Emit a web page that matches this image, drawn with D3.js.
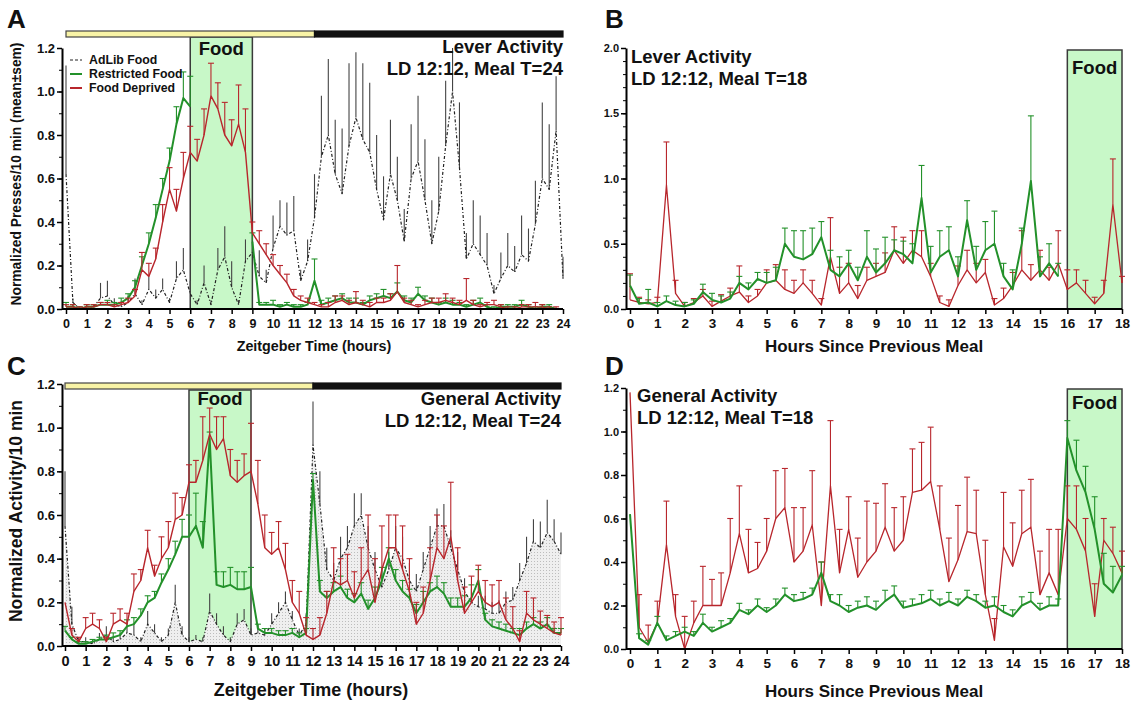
<!DOCTYPE html>
<html>
<head>
<meta charset="utf-8">
<script src="https://cdn.jsdelivr.net/npm/d3@7"></script>
<style>
body { margin: 0; background: #fff; }
svg text { font-family: "Liberation Sans", Arial, sans-serif; font-weight: bold; fill: #111; }
</style>
</head>
<body>
<svg id="fig" width="1138" height="703"></svg>
<script>
// 20-minute bins (hours)
var hours24 = d3.range(73).map(function(i) { return i / 3; });
var hours18 = d3.range(55).map(function(i) { return i / 3; });

// Panel A - lever presses, T=24
var aAdlib = [0.62,0.03,0,0,0.01,0.05,0.06,0.02,0.01,0.03,0.07,0.02,0.09,0.05,0.09,0.03,0.14,0.18,0.07,0.02,0.12,0.02,0.18,0.24,0.10,0.02,0.22,0.26,0.15,0.12,0.28,0.38,0.34,0.36,0.13,0.22,0.42,0.70,0.80,0.62,0.53,0.75,0.88,0.78,0.72,0.55,0.41,0.62,0.50,0.31,0.60,0.68,0.50,0.30,0.45,0.75,1.00,0.65,0.23,0.30,0.25,0.20,0.07,0.14,0.20,0.17,0.25,0.22,0.39,0.60,0.55,0.82,0.14];
var aAdlibErr = [0.5,0.02,0,0,0.01,0.07,0.07,0.03,0.01,0.03,0.07,0.02,0.06,0.04,0.05,0.02,0.08,0.10,0.06,0.02,0.08,0.02,0.10,0.14,0.12,0.02,0.10,0.10,0.12,0.06,0.15,0.12,0.15,0.16,0.05,0.10,0.20,0.28,0.35,0.25,0.30,0.38,0.30,0.35,0.32,0.25,0.20,0.25,0.20,0.15,0.25,0.30,0.28,0.20,0.25,0.30,0.20,0.30,0.12,0.20,0.18,0.15,0.04,0.12,0.15,0.12,0.18,0.15,0.20,0.35,0.30,0.25,0.10];
var aRestricted = [0.01,0.01,0,0.01,0.01,0.02,0.02,0.02,0.03,0.05,0.10,0.20,0.30,0.42,0.55,0.68,0.85,0.97,0.93,null,null,null,null,null,null,null,null,0.31,0.02,0.02,0.02,0.01,0.02,0.01,0.01,0.02,0.13,0.02,0.03,0.04,0.05,0.03,0.03,0.02,0.04,0.05,0.06,0.05,0.08,0.04,0.03,0.07,0.04,0.03,0.02,0.03,0.02,0.02,0.01,0.02,0.03,0.01,0,0.01,0.01,0.01,0.02,0.01,0,0.01,0.01,0,0];
var aRestrictedErr = [0.02,0.01,0.01,0.01,0.01,0.01,0.02,0.01,0.02,0.02,0.03,0.04,0.05,0.06,0.05,0.06,0.08,0.12,0.14,0,0,0,0,0,0,0,0,0.04,0.01,0.01,0.02,0.01,0.01,0.01,0.01,0.01,0.10,0.02,0.02,0.02,0.02,0.02,0.02,0.01,0.02,0.02,0.03,0.02,0.04,0.02,0.02,0.03,0.02,0.02,0.01,0.02,0.02,0.01,0.01,0.02,0.02,0.01,0.01,0.01,0.01,0.01,0.02,0.01,0.01,0.01,0.01,0,0];
var aDeprived = [0.01,0.01,0,0.01,0.01,0.02,0.02,0.01,0.02,0.03,0.06,0.18,0.15,0.23,0.40,0.55,0.45,0.60,0.72,0.68,0.80,0.98,0.92,0.80,0.75,0.85,0.72,0.35,0.30,0.25,0.20,0.16,0.12,0.06,0.04,0.03,0.02,0.01,0.01,0.03,0.04,0.02,0.03,0.02,0.01,0.03,0.03,0.04,0.08,0.03,0.02,0.01,0.02,0.03,0.03,0.04,0.03,0.02,0.04,0.02,0.01,0.02,0.02,0.01,0,0,0.01,0.01,0.01,0.01,0,0,0];
var aDeprivedErr = [0.01,0.01,0.01,0.01,0.01,0.01,0.01,0.01,0.01,0.02,0.03,0.08,0.06,0.05,0.08,0.10,0.10,0.12,0.12,0.10,0.12,0.15,0.12,0.15,0.12,0.18,0.20,0.05,0.06,0.05,0.05,0.04,0.04,0.03,0.02,0.02,0.01,0.01,0.02,0.03,0.02,0.02,0.05,0.02,0.02,0.02,0.02,0.03,0.12,0.02,0.02,0.01,0.02,0.02,0.02,0.03,0.02,0.02,0.10,0.02,0.01,0.01,0.02,0.01,0.01,0.01,0.01,0.01,0.02,0.01,0.01,0.01,0];

// Panel B - lever presses, T=18
var bRestricted = [0.18,0.04,0.05,0.02,0.06,0.03,0.02,0.04,0.13,0.07,0.05,0.08,0.20,0.15,0.23,0.20,0.22,0.50,0.40,0.38,0.42,0.55,0.30,0.25,0.35,0.22,0.40,0.28,0.35,0.45,0.42,0.35,0.85,0.28,0.40,0.45,0.25,0.68,0.30,0.45,0.50,0.25,0.15,0.50,0.98,0.25,0.35,0.25,null,null,null,null,null,null,null];
var bRestrictedErr = [0.08,0.04,0.10,0.03,0.04,0.03,0.03,0.03,0.06,0.05,0.05,0.05,0.05,0.05,0.05,0.08,0.10,0.12,0.20,0.22,0.20,0.12,0.15,0.15,0.10,0.10,0.20,0.18,0.20,0.08,0.10,0.15,0.25,0.20,0.20,0.18,0.15,0.15,0.18,0.22,0.25,0.10,0.15,0.12,0.50,0.15,0.15,0.10,0,0,0,0,0,0,0];
var bDeprived = [0.07,0.05,0.04,0.05,0.95,0.12,0.02,0.05,0.10,0.02,0.06,0.10,0.13,0.05,0.10,0.20,0.22,0.15,0.12,0.20,0.12,0.03,0.40,0.12,0.20,0.08,0.22,0.25,0.28,0.45,0.35,0.45,0.40,0.25,0.05,0.02,0.18,0.30,0.20,0.28,0.03,0.08,0.18,0.30,0.22,0.30,0.22,0.35,0.15,0.20,0.12,0.04,0.12,0.80,0.20];
var bDeprivedErr = [0.20,0.04,0.03,0.04,0.33,0.10,0.03,0.03,0.05,0.04,0.05,0.06,0.20,0.05,0.05,0.10,0.12,0.15,0.10,0.10,0.10,0.05,0.30,0.20,0.15,0.10,0.10,0.10,0.15,0.18,0.20,0.15,0.20,0.10,0.05,0.05,0.15,0.15,0.15,0.10,0.05,0.08,0.10,0.30,0.12,0.15,0.10,0.25,0.15,0.10,0.10,0.05,0.10,0.35,0.05];

// Panel C - general activity, T=24
var cAdlib = [0.55,0.10,0.02,0.02,0.01,0.03,0.05,0.02,0.03,0.06,0.05,0.02,0.10,0.06,0.02,0.05,0.20,0.05,0.02,0.03,0.02,0.16,0.10,0.05,0.02,0.10,0.12,0.05,0.06,0.05,0.10,0.15,0.20,0.12,0.05,0.10,0.92,0.65,0.35,0.30,0.40,0.45,0.55,0.60,0.45,0.35,0.27,0.35,0.45,0.40,0.30,0.25,0.35,0.45,0.55,0.55,0.45,0.35,0.25,0.20,0.18,0.17,0.15,0.15,0.20,0.21,0.30,0.38,0.48,0.45,0.52,0.48,0.42];
var cAdlibErr = [0.25,0.08,0.02,0.02,0.01,0.03,0.04,0.02,0.03,0.04,0.05,0.02,0.06,0.04,0.02,0.03,0.08,0.04,0.02,0.02,0.02,0.08,0.05,0.04,0.02,0.05,0.05,0.03,0.04,0.03,0.05,0.05,0.05,0.04,0.03,0.05,0.20,0.15,0.10,0.08,0.10,0.10,0.15,0.10,0.10,0.08,0.08,0.08,0.10,0.10,0.08,0.08,0.08,0.10,0.08,0.10,0.08,0.08,0.06,0.06,0.05,0.06,0.05,0.06,0.05,0.06,0.08,0.12,0.10,0.12,0.15,0.10,0.10];
var cRestricted = [0.07,0.03,0.01,0.01,0.02,0.03,0.03,0.04,0.05,0.09,0.10,0.14,0.20,0.22,0.29,0.35,0.42,0.50,0.50,0.55,0.45,0.95,0.28,0.27,0.28,0.26,0.26,0.27,0.08,0.06,0.06,0.05,0.05,0.06,0.04,0.06,0.76,0.25,0.22,0.25,0.27,0.22,0.20,0.24,0.17,0.22,0.30,0.40,0.30,0.25,0.22,0.15,0.20,0.25,0.27,0.24,0.18,0.18,0.18,0.22,0.30,0.12,0.09,0.08,0.07,0.06,0.05,0.08,0.10,0.08,0.10,0.06,0.06];
var cRestrictedErr = [0.02,0.01,0.01,0.01,0.01,0.01,0.02,0.02,0.02,0.03,0.03,0.03,0.03,0.03,0.04,0.05,0.06,0.08,0.10,0.15,0.12,0.03,0.06,0.07,0.08,0.08,0.08,0.09,0.02,0.02,0.02,0.02,0.02,0.02,0.02,0.02,0.03,0.05,0.03,0.04,0.05,0.04,0.04,0.05,0.04,0.05,0.06,0.05,0.05,0.05,0.04,0.04,0.05,0.04,0.05,0.05,0.04,0.04,0.05,0.06,0.05,0.03,0.03,0.03,0.03,0.02,0.03,0.03,0.03,0.03,0.03,0.02,0.02];
var cDeprived = [0.20,0.05,0.02,0.08,0.10,0.08,0.02,0.10,0.12,0.10,0.25,0.30,0.45,0.32,0.40,0.45,0.58,0.60,0.75,0.75,0.85,0.97,0.90,0.95,0.78,0.75,0.78,0.80,0.65,0.45,0.42,0.45,0.35,0.20,0.15,0.05,0.03,0.05,0.15,0.30,0.28,0.30,0.22,0.30,0.35,0.20,0.35,0.45,0.45,0.35,0.25,0.10,0.15,0.30,0.45,0.40,0.50,0.30,0.15,0.20,0.25,0.20,0.18,0.20,0.12,0.08,0.02,0.15,0.12,0.10,0.08,0.06,0.05];
var cDeprivedErr = [0,0.03,0.02,0.05,0.05,0.04,0.02,0.05,0.05,0.05,0.08,0.05,0.08,0.05,0.10,0.12,0.12,0.08,0.08,0.10,0.20,0.12,0.15,0.10,0.12,0.10,0.10,0.22,0.20,0.15,0.10,0.12,0.12,0.10,0.10,0.08,0.05,0.08,0.10,0.15,0.12,0.12,0.12,0.15,0.25,0.20,0.20,0.15,0.15,0.20,0.15,0.10,0.12,0.15,0.15,0.15,0.25,0.15,0.12,0.12,0.12,0.10,0.10,0.10,0.10,0.10,0.05,0.10,0.10,0.06,0.06,0.05,0.08];

// Panel D - general activity, T=18
var dRestricted = [0.62,0.05,0.02,0.12,0.04,0.06,0.08,0.06,0.12,0.08,0.10,0.12,0.18,0.16,0.20,0.17,0.20,0.25,0.22,0.23,0.25,0.35,0.22,0.20,0.17,0.19,0.20,0.18,0.22,0.25,0.19,0.20,0.21,0.23,0.20,0.22,0.20,0.24,0.22,0.19,0.20,0.17,0.15,0.20,0.22,0.18,0.20,0.20,0.97,0.82,0.72,0.55,0.30,0.26,0.34];
var dRestrictedErr = [0,0.02,0.02,0.03,0.02,0.02,0.02,0.02,0.04,0.02,0.03,0.02,0.03,0.02,0.03,0.02,0.03,0.03,0.03,0.03,0.03,0.05,0.03,0.05,0.03,0.03,0.04,0.04,0.05,0.04,0.03,0.03,0.04,0.04,0.03,0.04,0.03,0.03,0.03,0.03,0.04,0.03,0.03,0.04,0.04,0.03,0.04,0.03,0.08,0.14,0.12,0.15,0.14,0.12,0.04];
var dDeprived = [1.18,0.10,0.03,0.12,0.48,0.15,0,0.12,0.20,0.20,0.20,0.35,0.53,0.35,0.37,0.45,0.60,0.65,0.40,0.45,0.57,0.20,0.75,0.35,0.55,0.33,0.40,0.45,0.56,0.45,0.50,0.72,0.73,0.77,0.55,0.31,0.41,0.54,0.53,0.25,0.04,0.47,0.38,0.53,0.56,0.25,0.35,0.25,0.60,0.55,0.45,0.15,0.50,0.44,0.35];
var dDeprivedErr = [0,0.15,0.08,0.10,0.20,0.10,0.15,0.10,0.18,0.12,0.15,0.25,0.22,0.20,0.12,0.15,0.22,0.18,0.25,0.20,0.25,0.20,0.30,0.20,0.15,0.18,0.28,0.22,0.20,0.20,0.20,0.20,0.22,0.25,0.20,0.20,0.25,0.25,0.20,0.25,0.10,0.25,0.20,0.20,0.22,0.20,0.20,0.30,0.15,0.20,0.15,0.15,0.10,0.12,0.10];

var legendNames = ["AdLib Food", "Restricted Food", "Food Deprived"];

var svg = d3.select("#fig");

// dotted grey fill used under the AdLib trace in panel C
var pat = svg.append("defs").append("pattern")
    .attr("id", "dots").attr("width", 3).attr("height", 3)
    .attr("patternUnits", "userSpaceOnUse");
pat.append("rect").attr("width", 3).attr("height", 3).attr("fill", "#efefef");
pat.append("rect").attr("width", 1).attr("height", 1).attr("fill", "#bdbdbd");

var GREEN = "#23912a", RED = "#b8262c";

function drawPanel(c) {
    var g = svg.append("g");
    var x = d3.scaleLinear().domain([0, c.xmax]).range([c.x0, c.x1]);
    var y = d3.scaleLinear().domain([0, c.ymax]).range([c.y0, c.y1]);

    // food window
    g.append("rect")
        .attr("x", x(c.food[0]))
        .attr("y", c.foodTop)
        .attr("width", x(c.food[1]) - x(c.food[0]))
        .attr("height", c.y0 - c.foodTop)
        .attr("fill", "#c8f8c8")
        .attr("stroke", "#3a3a3a")
        .attr("stroke-width", 1.5);
    g.append("text")
        .attr("x", (x(c.food[0]) + x(c.food[1])) / 2)
        .attr("y", c.foodTextY)
        .attr("text-anchor", "middle")
        .style("font-size", "18.5px")
        .text("Food");

    // light / dark bar
    if (c.ldBar) {
        g.append("rect").attr("x", x(0)).attr("y", c.ldBar).attr("width", x(12) - x(0)).attr("height", 6)
            .attr("fill", "#f8f3a6").attr("stroke", "#444").attr("stroke-width", 1.2);
        g.append("rect").attr("x", x(12)).attr("y", c.ldBar).attr("width", x(24) - x(12)).attr("height", 6)
            .attr("fill", "#111").attr("stroke", "#111").attr("stroke-width", 1.2);
    }

    c.series.forEach(function(s) {
        var pts = s.vals.map(function(v, i) { return { t: s.hours[i], v: v, e: s.errs[i] }; });
        var ok = pts.filter(function(p) { return p.v !== null; });

        if (s.fill) {
            var area = d3.area()
                .defined(function(p) { return p.v !== null; })
                .x(function(p) { return x(p.t); })
                .y0(y(0))
                .y1(function(p) { return y(p.v); });
            g.append("path").datum(pts).attr("d", area).attr("fill", s.fill);
        }

        // upper error bars
        var eb = g.append("g").attr("stroke", s.errColor || s.color).attr("stroke-width", 1.1);
        eb.selectAll("line.bar")
            .data(ok.filter(function(p) { return p.e > 0; }))
            .enter().append("line")
            .attr("class", "bar")
            .attr("x1", function(p) { return x(p.t); })
            .attr("x2", function(p) { return x(p.t); })
            .attr("y1", function(p) { return y(p.v); })
            .attr("y2", function(p) { return y(Math.min(p.v + p.e, c.ymax)); });
        if (s.caps) {
            eb.selectAll("line.cap")
                .data(ok.filter(function(p) { return p.e > 0; }))
                .enter().append("line")
                .attr("class", "cap")
                .attr("x1", function(p) { return x(p.t) - 3; })
                .attr("x2", function(p) { return x(p.t) + 3; })
                .attr("y1", function(p) { return y(Math.min(p.v + p.e, c.ymax)); })
                .attr("y2", function(p) { return y(Math.min(p.v + p.e, c.ymax)); });
        }

        var line = d3.line()
            .defined(function(p) { return p.v !== null; })
            .x(function(p) { return x(p.t); })
            .y(function(p) { return y(p.v); });
        g.append("path").datum(pts)
            .attr("d", line)
            .attr("fill", "none")
            .attr("stroke", s.color)
            .attr("stroke-width", s.width)
            .attr("stroke-dasharray", s.dash || null)
            .attr("stroke-linejoin", "round");
    });

    // axes
    var yAxis = d3.axisLeft(y).tickValues(d3.range(0, c.ymax + 1e-9, c.yStep))
        .tickFormat(d3.format(".1f")).tickSize(5).tickSizeOuter(0);
    var ya = g.append("g").attr("transform", "translate(" + c.axisX + ",0)").call(yAxis);
    ya.select(".domain").attr("stroke-width", 2);
    ya.selectAll(".tick line").attr("stroke-width", 1.5);
    ya.selectAll("text").style("font-size", c.yFont + "px").attr("dx", "1px");

    var yMinor = d3.axisLeft(y).tickValues(d3.range(0, c.ymax + 1e-9, 0.1)).tickFormat("").tickSize(3).tickSizeOuter(0);
    var ym = g.append("g").attr("transform", "translate(" + c.axisX + ",0)").call(yMinor);
    ym.select(".domain").remove();

    var xAxis = d3.axisBottom(x).tickValues(d3.range(0, c.xmax + 1)).tickFormat(d3.format("d"))
        .tickSize(5).tickSizeOuter(0);
    var xa = g.append("g").attr("transform", "translate(0," + c.y0 + ")").call(xAxis);
    xa.select(".domain").remove();
    xa.selectAll(".tick line").attr("stroke-width", 1.5);
    xa.selectAll("text").style("font-size", c.xFont + "px").attr("dy", "0.85em");
    g.append("line").attr("x1", c.axisX).attr("x2", c.x1).attr("y1", c.y0).attr("y2", c.y0)
        .attr("stroke", "#000").attr("stroke-width", 2);

    // labels
    g.append("text").attr("x", c.letter[0]).attr("y", c.letter[1]).style("font-size", "26px").text(c.name);
    g.append("text").attr("x", c.xLabel[0]).attr("y", c.xLabel[1]).attr("text-anchor", "middle")
        .style("font-size", c.xLabel[2] + "px").text(c.xTitle);
    if (c.yTitle) {
        g.append("text").attr("transform", "translate(" + c.yLabel[0] + "," + c.yLabel[1] + ") rotate(-90)")
            .attr("text-anchor", "middle").style("font-size", c.yLabel[2] + "px").text(c.yTitle);
    }
    c.title.forEach(function(t, i) {
        g.append("text").attr("x", c.titlePos[0]).attr("y", c.titlePos[1] + i * 22)
            .attr("text-anchor", c.titleAnchor).style("font-size", "18.5px").text(t);
    });
    return g;
}

var adlibStyle = { color: "#222", width: 1.2, dash: "3,2,1,2", errColor: "#444", caps: false };

var gA = drawPanel({
    name: "A", letter: [7, 28],
    x0: 66, x1: 563, y0: 309, y1: 48, axisX: 62, xmax: 24, ymax: 1.2, yStep: 0.2,
    food: [6, 9], foodTop: 37, foodTextY: 55, ldBar: 31,
    yFont: 13, xFont: 12.5,
    xTitle: "Zeitgeber Time (hours)", xLabel: [314, 351, 14.3],
    yTitle: "Normalized Presses/10 min (mean\u00b1sem)", yLabel: [21, 174, 13.8],
    title: ["Lever Activity", "LD 12:12, Meal T=24"], titlePos: [563, 53], titleAnchor: "end",
    series: [
        Object.assign({ hours: hours24, vals: aAdlib, errs: aAdlibErr }, adlibStyle),
        { hours: hours24, vals: aRestricted, errs: aRestrictedErr, color: GREEN, width: 2, caps: true },
        { hours: hours24, vals: aDeprived, errs: aDeprivedErr, color: RED, width: 1.4, caps: true }
    ]
});

// legend for panel A
var legStyles = [
    { color: "#222", width: 1.2, dash: "3,2" },
    { color: GREEN, width: 2 },
    { color: RED, width: 2 }
];
legendNames.forEach(function(n, i) {
    gA.append("line").attr("x1", 70).attr("x2", 82).attr("y1", 60 + i * 14).attr("y2", 60 + i * 14)
        .attr("stroke", legStyles[i].color).attr("stroke-width", legStyles[i].width)
        .attr("stroke-dasharray", legStyles[i].dash || null);
    gA.append("text").attr("x", 89).attr("y", 64 + i * 14).style("font-size", "12.3px").text(n);
});

drawPanel({
    name: "B", letter: [605, 28],
    x0: 630, x1: 1122, y0: 309, y1: 48, axisX: 626, xmax: 18, ymax: 2.0, yStep: 0.5,
    food: [16, 18], foodTop: 50, foodTextY: 74, ldBar: null,
    yFont: 11, xFont: 13.5,
    xTitle: "Hours Since Previous Meal", xLabel: [874, 352, 17],
    yTitle: null,
    title: ["Lever Activity", "LD 12:12, Meal T=18"], titlePos: [631, 63], titleAnchor: "start",
    series: [
        { hours: hours18, vals: bDeprived, errs: bDeprivedErr, color: RED, width: 1.3, caps: true },
        { hours: hours18, vals: bRestricted, errs: bRestrictedErr, color: GREEN, width: 2, caps: true }
    ]
});

drawPanel({
    name: "C", letter: [7, 375],
    x0: 65, x1: 561, y0: 646, y1: 384, axisX: 62, xmax: 24, ymax: 1.2, yStep: 0.2,
    food: [6, 9], foodTop: 390, foodTextY: 405, ldBar: 383,
    yFont: 13, xFont: 14.5,
    xTitle: "Zeitgeber Time (hours)", xLabel: [311, 696, 18],
    yTitle: "Normalized Activity/10 min", yLabel: [22, 511, 17.5],
    title: ["General Activity", "LD 12:12, Meal T=24"], titlePos: [561, 405], titleAnchor: "end",
    series: [
        Object.assign({ hours: hours24, vals: cAdlib, errs: cAdlibErr, fill: "url(#dots)" }, adlibStyle),
        { hours: hours24, vals: cRestricted, errs: cRestrictedErr, color: GREEN, width: 2, caps: true },
        { hours: hours24, vals: cDeprived, errs: cDeprivedErr, color: RED, width: 1.4, caps: true }
    ]
});

drawPanel({
    name: "D", letter: [605, 375],
    x0: 630, x1: 1122, y0: 649, y1: 388, axisX: 626, xmax: 18, ymax: 1.2, yStep: 0.2,
    food: [16, 18], foodTop: 389, foodTextY: 409, ldBar: null,
    yFont: 11, xFont: 13.5,
    xTitle: "Hours Since Previous Meal", xLabel: [874, 697, 17],
    yTitle: null,
    title: ["General Activity", "LD 12:12, Meal T=18"], titlePos: [637, 402], titleAnchor: "start",
    series: [
        { hours: hours18, vals: dDeprived, errs: dDeprivedErr, color: RED, width: 1.3, caps: true },
        { hours: hours18, vals: dRestricted, errs: dRestrictedErr, color: GREEN, width: 2, caps: true }
    ]
});
</script>
</body>
</html>
